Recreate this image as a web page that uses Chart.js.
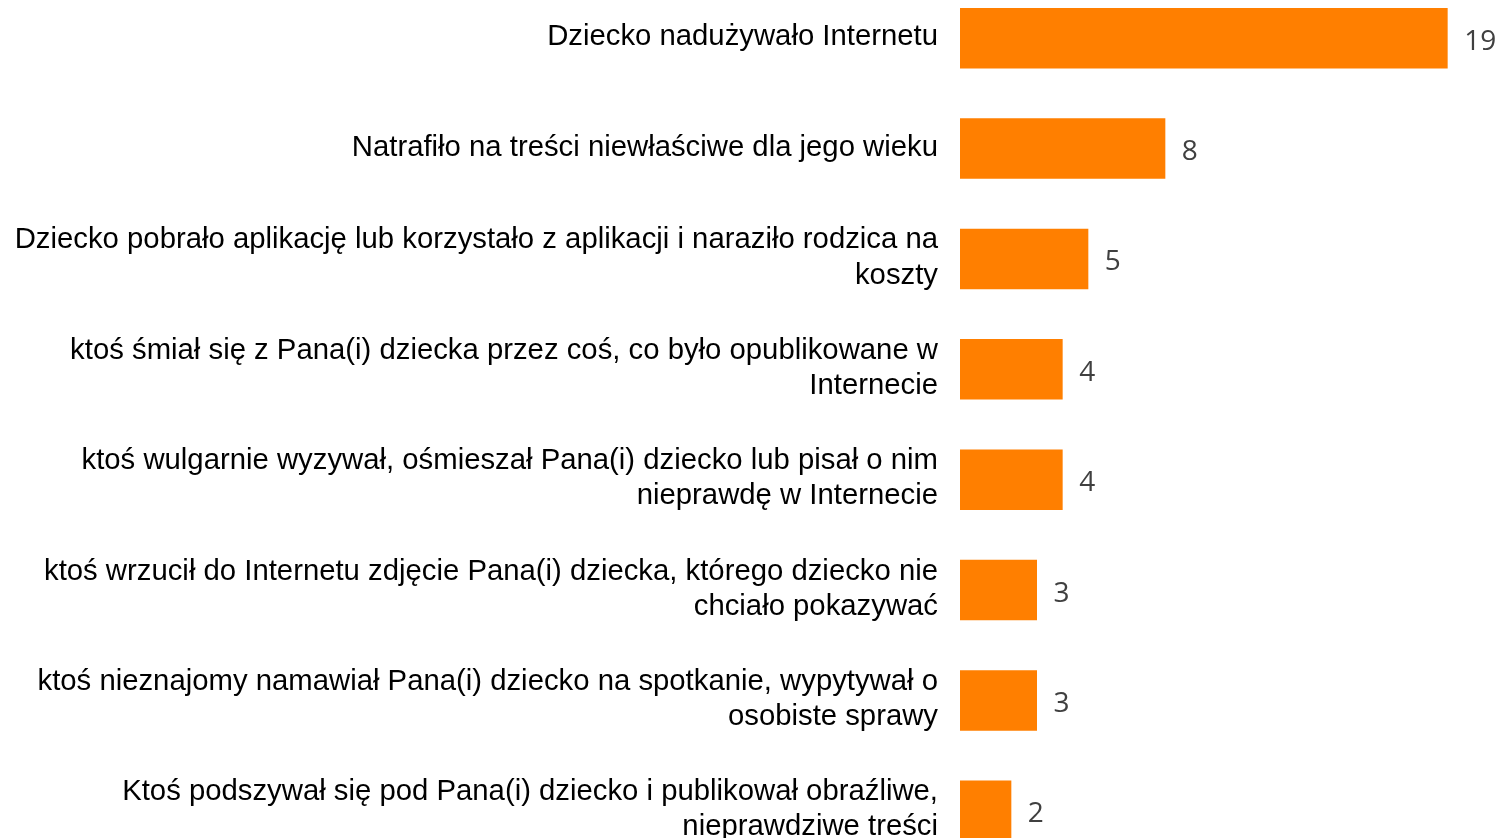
<!DOCTYPE html>
<html>
<head>
<meta charset="utf-8">
<script src="https://cdn.jsdelivr.net/npm/chart.js@4.4.1/dist/chart.umd.min.js"></script>
<style>
html,body{margin:0;padding:0;background:#fff;overflow:hidden;width:1502px;height:838px;}
#wrap{position:absolute;left:0;top:-17px;width:1502px;height:883px;}
</style>
</head>
<body>
<div id="wrap"><canvas id="c"></canvas></div>
<script>
const categories = [
  ["Dziecko nadużywało Internetu"],
  ["Natrafiło na treści niewłaściwe dla jego wieku"],
  ["Dziecko pobrało aplikację lub korzystało z aplikacji i naraziło rodzica na", "koszty"],
  ["ktoś śmiał się z Pana(i) dziecka przez coś, co było opublikowane w", "Internecie"],
  ["ktoś wulgarnie wyzywał, ośmieszał Pana(i) dziecko lub pisał o nim", "nieprawdę w Internecie"],
  ["ktoś wrzucił do Internetu zdjęcie Pana(i) dziecka, którego dziecko nie", "chciało pokazywać"],
  ["ktoś nieznajomy namawiał Pana(i) dziecko na spotkanie, wypytywał o", "osobiste sprawy"],
  ["Ktoś podszywał się pod Pana(i) dziecko i publikował obraźliwe,", "nieprawdziwe treści"]
];
const values = [19, 8, 5, 4, 4, 3, 3, 2];

const valueLabels = {
  id: 'valueLabels',
  afterDatasetsDraw(chart) {
    const ctx = chart.ctx;
    const meta = chart.getDatasetMeta(0);
    ctx.save();
    ctx.font = '28px "Open Sans", "DejaVu Sans", sans-serif';
    ctx.fillStyle = '#404040';
    ctx.textAlign = 'left';
    ctx.textBaseline = 'alphabetic';
    meta.data.forEach((bar, i) => {
      ctx.fillText(String(values[i]), bar.x + 16.5, bar.y + 11.5);
    });
    ctx.restore();
  }
};

new Chart(document.getElementById('c'), {
  type: 'bar',
  data: {
    labels: categories,
    datasets: [{
      data: values,
      backgroundColor: '#FF7F00',
      borderWidth: 0,
      barPercentage: 0.548,
      categoryPercentage: 1.0
    }]
  },
  options: {
    indexAxis: 'y',
    responsive: true,
    maintainAspectRatio: false,
    animation: false,
    layout: { padding: { left: 0, right: 3, top: 0, bottom: 0 } },
    plugins: { legend: { display: false }, tooltip: { enabled: false } },
    scales: {
      x: { display: false, min: 0, max: 21 },
      y: {
        offset: true,
        border: { display: false },
        grid: { display: false, drawTicks: false },
        ticks: {
          padding: 22,
          color: '#000000',
          autoSkip: false,
          labelOffset: -1,
          font: { family: 'Arial, "Liberation Sans", sans-serif', size: 29.3, lineHeight: 1.2 }
        },
        afterFit(scale) { scale.width = 960; scale.paddingTop = 0; scale.paddingBottom = 0; }
      }
    }
  },
  plugins: [valueLabels]
});
</script>
</body>
</html>
